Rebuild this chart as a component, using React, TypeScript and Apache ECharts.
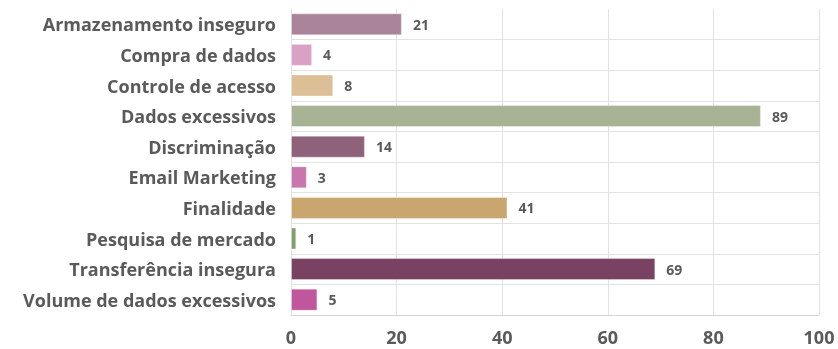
import React, { useEffect, useRef } from "react";
import * as echarts from "echarts";

const categories = [
  "Armazenamento inseguro",
  "Compra de dados",
  "Controle de acesso",
  "Dados excessivos",
  "Discriminação",
  "Email Marketing",
  "Finalidade",
  "Pesquisa de mercado",
  "Transferência insegura",
  "Volume de dados excessivos",
];
const values = [21, 4, 8, 89, 14, 3, 41, 1, 69, 5];
const colors = [
  "#aa8599",
  "#d9a1c5",
  "#dcbf97",
  "#a8b395",
  "#8f627b",
  "#c876ad",
  "#c9a570",
  "#80a06b",
  "#7a4262",
  "#c0569b",
];
const xTicks = [0, 20, 40, 60, 80, 100];

export default function App() {
  const ref = useRef<HTMLDivElement>(null);
  useEffect(() => {
    if (!ref.current) return;
    const chart = echarts.init(ref.current, undefined, { renderer: "svg" });
    const font = "'Open Sans', sans-serif";
    chart.setOption({
      animation: false,
      grid: { left: 291, right: 19, top: 9, bottom: 34, containLabel: false },
      xAxis: {
        type: "value",
        min: xTicks[0],
        max: xTicks[xTicks.length - 1],
        interval: 20,
        axisLine: { show: true, lineStyle: { color: "#d4d4d4", width: 1 } },
        axisTick: { show: false },
        axisLabel: {
          color: "#5a5a5a",
          fontFamily: font,
          fontWeight: "bold",
          fontSize: 18,
          lineHeight: 18,
          margin: 13,
        },
        splitLine: { show: true, lineStyle: { color: "#e2e2e2", width: 1 } },
      },
      yAxis: {
        type: "category",
        data: categories,
        inverse: true,
        axisLine: { show: false },
        axisTick: { show: false },
        axisLabel: {
          color: "#5a5a5a",
          fontFamily: font,
          fontWeight: "bold",
          fontSize: 18,
          margin: 15,
        },
        splitLine: {
          show: true,
          showMinLine: false,
          lineStyle: { color: "#e2e2e2", width: 1 },
        },
      },
      series: [
        {
          type: "bar",
          data: values.map((v, i) => ({
            value: v,
            itemStyle: { color: colors[i] },
          })),
          barWidth: 22,
          itemStyle: {
            borderColor: "rgba(255,255,255,0.35)",
            borderWidth: 1,
          },
          label: {
            show: true,
            position: "right",
            distance: 11,
            color: "#5a5a5a",
            fontFamily: font,
            fontWeight: "bold",
            fontSize: 14,
          },
        },
      ],
    });
    return () => chart.dispose();
  }, []);
  return (
    <div
      ref={ref}
      style={{ position: "fixed", left: 0, top: 0, width: 838, height: 349 }}
    />
  );
}
